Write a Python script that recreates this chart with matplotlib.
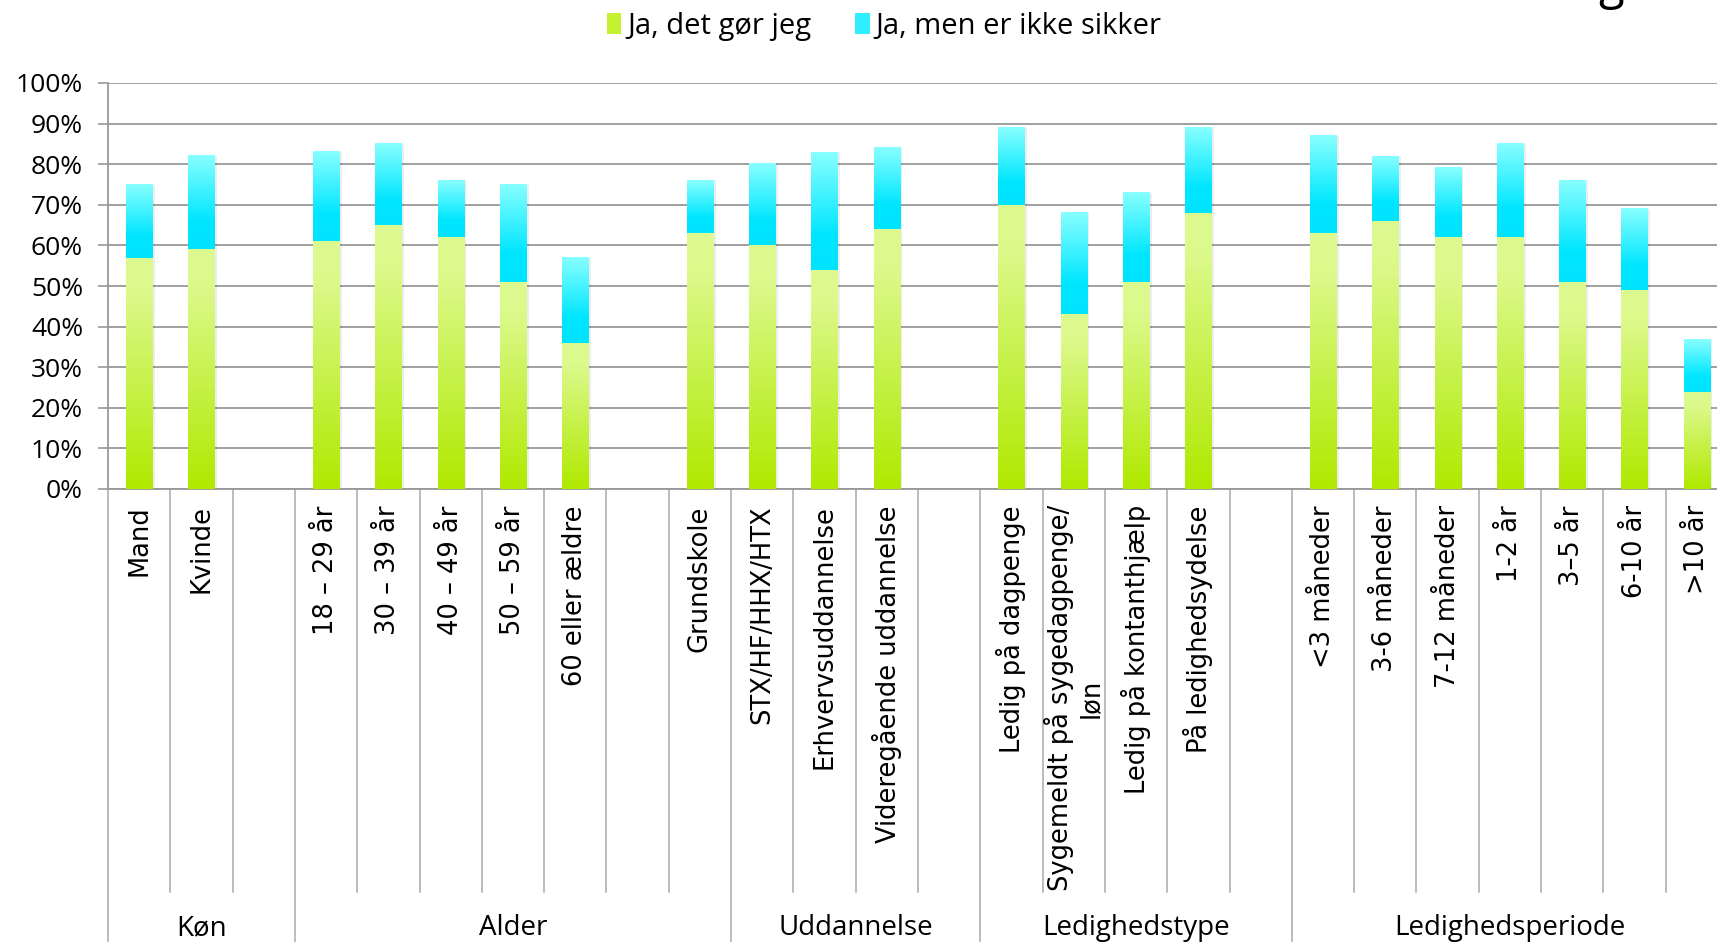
import numpy as np
import matplotlib
matplotlib.use('Agg')
import matplotlib.pyplot as plt
import matplotlib.transforms as mtransforms
from matplotlib.patches import Patch
from matplotlib.colors import LinearSegmentedColormap


groups = ['Køn', 'Alder', 'Uddannelse', 'Ledighedstype', 'Ledighedsperiode']
group_items = [
    ['Mand', 'Kvinde', ''],
    ['18 – 29 år', '30 – 39 år', '40 – 49 år', '50 – 59 år', '60 eller ældre', '', 'Grundskole'],
    ['STX/HF/HHX/HTX', 'Erhvervsuddannelse', 'Videregående uddannelse', ''],
    ['Ledig på dagpenge', 'Sygemeldt på sygedagpenge/\nløn', 'Ledig på kontanthjælp',
     'På ledighedsydelse', ''],
    ['<3 måneder', '3-6 måneder', '7-12 måneder', '1-2 år', '3–5 år', '6-10 år', '>10 år'],
]

nan = np.nan
# percent, same order as the flattened labels (nan = empty slot)
ja_det_gor_jeg = [57, 59, nan,
                  61, 65, 62, 51, 36, nan, 63,
                  60, 54, 64, nan,
                  70, 43, 51, 68, nan,
                  63, 66, 62, 62, 51, 49, 24]
ja_ikke_sikker = [18, 23, nan,
                  22, 20, 14, 24, 21, nan, 13,
                  20, 29, 20, nan,
                  19, 25, 22, 21, nan,
                  24, 16, 17, 23, 25, 20, 13]

series_names = ['Ja, det gør jeg', 'Ja, men er ikke sikker']

labels = [s for g in group_items for s in g]
x = np.arange(len(labels))
s1 = np.array(ja_det_gor_jeg, dtype=float) / 100
s2 = np.array(ja_ikke_sikker, dtype=float) / 100

green = LinearSegmentedColormap.from_list('g', [(0, '#b0e900'), (0.85, '#dcf98c'), (1, '#ddfa90')])
cyan = LinearSegmentedColormap.from_list('c', [(0, '#00e3ff'), (0.3, '#00e6ff'), (1, '#88ffff')])

W, H = 1717, 942
fig = plt.figure(figsize=(W / 100, H / 100), dpi=100)
ax = fig.add_axes([108 / W, 453 / H, 1620 / W, 406 / H])

width = 0.42


def fill_gradient(patch, cmap):
	h = patch.get_height()
	if not np.isfinite(h) or h <= 0:
		return
	x0, y0, w = patch.get_x(), patch.get_y(), patch.get_width()
	grad = np.linspace(0, 1, 256).reshape(-1, 1)
	ax.imshow(grad, extent=[x0, x0 + w, y0, y0 + h], origin='lower', aspect='auto',
	          cmap=cmap, zorder=3, interpolation='bilinear')


# soft shadow
ax.bar(x + 0.03, s1 + s2, width + 0.02, color='black', alpha=0.07, zorder=2, lw=0)
b1 = ax.bar(x, s1, width, color='none', lw=0, zorder=3)
b2 = ax.bar(x, s2, width, bottom=s1, color='none', lw=0, zorder=3)
for p in b1:
	fill_gradient(p, green)
for p in b2:
	fill_gradient(p, cyan)

ax.set_xlim(-0.5, len(labels) - 0.5)
ax.set_ylim(0, 1)
ax.set_yticks(np.arange(0, 1.01, 0.1))
ax.set_yticklabels(['%d%%' % v for v in range(0, 101, 10)], fontsize=19, family='Open Sans')
ax.tick_params(axis='y', length=7, width=1.2, color='#999999', pad=11)
ax.set_xticks([])
ax.yaxis.grid(True, color='#999999', lw=1.3)
ax.set_axisbelow(True)
for side in ['top', 'right']:
	ax.spines[side].set_visible(False)
for side in ['left', 'bottom']:
	ax.spines[side].set_color('#999999')
	ax.spines[side].set_linewidth(1.3)

trans = mtransforms.blended_transform_factory(ax.transData, ax.transAxes)

# category labels and separators
for xi, lab in zip(x, labels):
	if lab:
		ax.text(xi, -0.04, lab, rotation=90, ha='center', va='top', fontsize=18.5,
		        family='DejaVu Sans', multialignment='center', transform=trans)

edges = np.cumsum([0] + [len(g) for g in group_items]) - 0.5
for b in np.arange(-0.5, len(labels), 1.0):
	if b in edges:
		continue
	ax.plot([b, b], [0, -0.993], transform=trans, clip_on=False, color='#aaaaaa', lw=1.1)
for b in edges:
	ax.plot([b, b], [0, -1.2], transform=trans, clip_on=False, color='#aaaaaa', lw=1.1)

for g, lo, hi in zip(groups, edges[:-1], edges[1:]):
	ax.text((lo + hi) / 2, -1.081, g, ha='center', va='center', fontsize=20,
	        family='Open Sans', transform=trans)

handles = [Patch(facecolor='#c4f230', edgecolor='none'), Patch(facecolor='#2eeeff', edgecolor='none')]
fig.legend(handles, series_names, loc='center', bbox_to_anchor=(0.515, 0.972), ncol=2,
           frameon=False, handlelength=0.5, handleheight=0.75, handletextpad=0.2,
           columnspacing=1.5, prop={'family': 'Open Sans', 'size': 21})

# tail of the cut-off title
fig.text(1598 / W, 1 + 1 / H, 'g', fontsize=34, family='Open Sans', va='baseline', ha='left')

plt.savefig('out.png', dpi=100)
plt.close()
